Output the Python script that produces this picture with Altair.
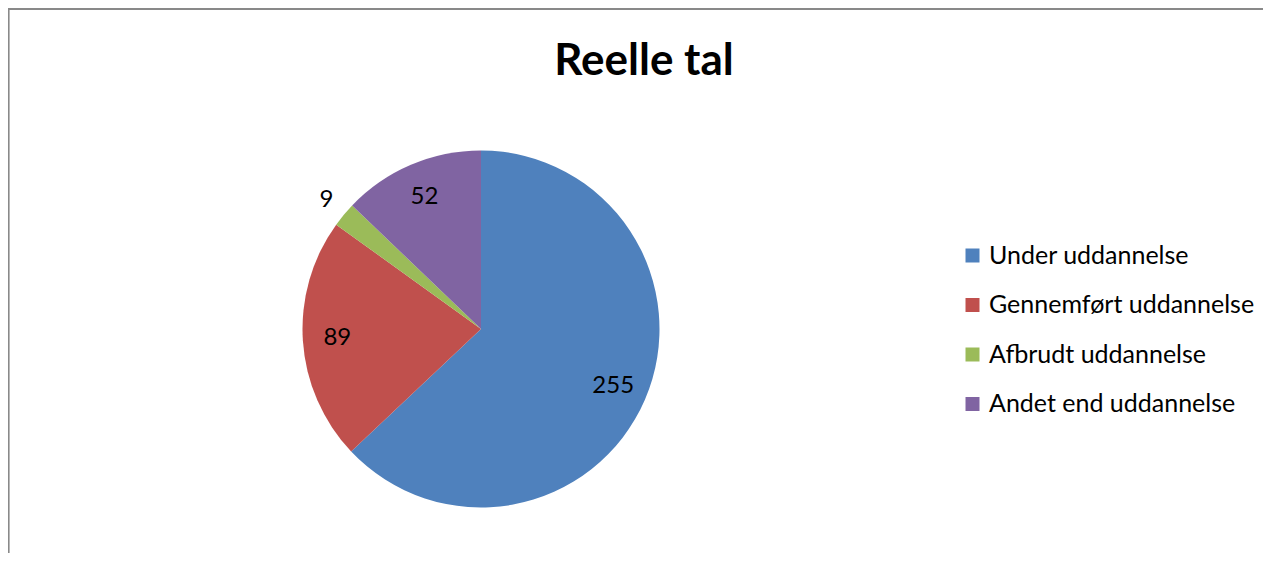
import altair as alt
import pandas as pd

# ---- data ----
categories = ["Under uddannelse", "Gennemført uddannelse", "Afbrudt uddannelse", "Andet end uddannelse"]
values = [255, 89, 9, 52]
colors = ["#4F81BD", "#C0504D", "#9BBB59", "#8064A2"]
title_text = "Reelle tal"

df = pd.DataFrame({"kategori": categories, "antal": values, "rk": list(range(len(categories)))})

CX, CY = 473, 321
FONT = "Lato"
W, H = 1255, 545

base = alt.Chart(df)

pie = base.mark_arc(outerRadius=178.5).encode(
    theta=alt.Theta("antal:Q", stack=True),
    color=alt.Color(
        "kategori:N",
        scale=alt.Scale(domain=categories, range=colors),
        legend=alt.Legend(
            title=None,
            orient="none",
            legendX=952,
            legendY=235,
            symbolType="square",
            symbolSize=196,
            symbolStrokeWidth=0,
            symbolOpacity=1,
            labelFont=FONT,
            labelFontSize=25,
            labelColor="#000000",
            labelOffset=4,
            rowPadding=23.5,
            labelLimit=400,
        ),
    ),
    order=alt.Order("rk:Q"),
    x=alt.value(CX),
    y=alt.value(CY),
)


def label_layer(radius, test):
    return base.mark_text(
        font=FONT, fontSize=24, color="#000000", align="center", baseline="middle", radius=radius
    ).encode(
        theta=alt.Theta("antal:Q", stack=True),
        order=alt.Order("rk:Q"),
        text="antal:Q",
        opacity=alt.condition(test, alt.value(1), alt.value(0)),
        x=alt.value(CX),
        y=alt.value(CY),
    )


labels_in = label_layer(144, "datum.antal >= 20")
labels_out = label_layer(201, "datum.antal < 20")

one = pd.DataFrame({"t": [title_text]})
title = alt.Chart(one).mark_text(
    font=FONT, fontSize=44, fontWeight="bold", color="#000000", align="center", baseline="alphabetic"
).encode(text="t:N", x=alt.value(636), y=alt.value(67))

frame_left = alt.Chart(one).mark_rule(color="#898989", strokeWidth=1.6).encode(
    x=alt.value(0.8), y=alt.value(0), y2=alt.value(H)
)
frame_top = alt.Chart(one).mark_rule(color="#898989", strokeWidth=2).encode(
    x=alt.value(0), x2=alt.value(W), y=alt.value(1)
)

chart = alt.layer(frame_left, frame_top, pie, labels_in, labels_out, title).properties(
    width=W, height=H, padding=0, autosize=alt.AutoSizeParams(type="none")
).configure_view(stroke=None)

chart.save("out.html", embed_options={"renderer": "svg", "actions": False})
